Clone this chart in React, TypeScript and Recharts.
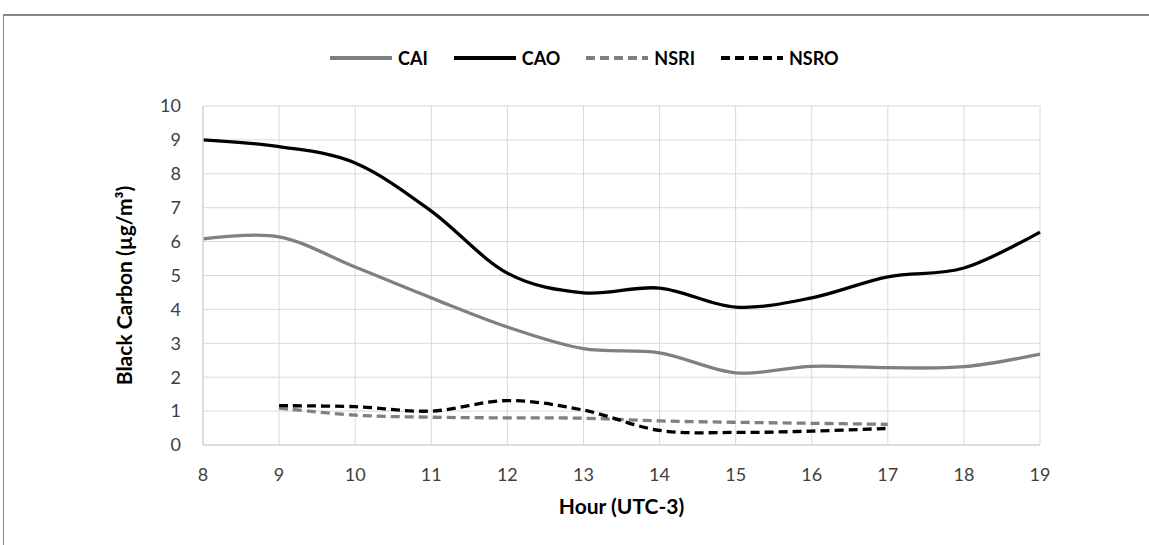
import React from "react";
import { LineChart, Line, XAxis, YAxis, CartesianGrid, Label } from "recharts";

// hours on the x axis
const hours = [8, 9, 10, 11, 12, 13, 14, 15, 16, 17, 18, 19];
const yTicks = [0, 1, 2, 3, 4, 5, 6, 7, 8, 9, 10];

// black carbon, µg/m³
const cai = [6.08, 6.14, 5.25, 4.34, 3.48, 2.84, 2.72, 2.13, 2.32, 2.28, 2.31, 2.68];
const cao = [9.0, 8.8, 8.32, 6.9, 5.07, 4.49, 4.63, 4.07, 4.34, 4.96, 5.22, 6.28];
const nsri = [null, 1.09, 0.88, 0.82, 0.8, 0.79, 0.71, 0.67, 0.64, 0.61, null, null];
const nsro = [null, 1.16, 1.13, 1.0, 1.31, 1.03, 0.43, 0.37, 0.41, 0.49, null, null];

const data = hours.map((h, i) => ({
  hour: h,
  CAI: cai[i],
  CAO: cao[i],
  NSRI: nsri[i],
  NSRO: nsro[i],
}));

const series = [
  { key: "CAI", color: "#808080", dash: undefined },
  { key: "CAO", color: "#000000", dash: undefined },
  { key: "NSRI", color: "#808080", dash: "9 5" },
  { key: "NSRO", color: "#000000", dash: "9 5" },
];

const FONT = "Lato, 'Open Sans', sans-serif";

// Excel-like smoothing (Catmull-Rom through the points)
function smoothCurve(context: any) {
  const k = 1 / 6;
  const s: any = {};
  const seg = (x: number, y: number) => {
    context.bezierCurveTo(
      s.x1 + k * (s.x2 - s.x0),
      s.y1 + k * (s.y2 - s.y0),
      s.x2 + k * (s.x1 - x),
      s.y2 + k * (s.y1 - y),
      s.x2,
      s.y2
    );
  };
  return {
    areaStart() {
      s.line = 0;
    },
    areaEnd() {
      s.line = NaN;
    },
    lineStart() {
      s.x0 = s.x1 = s.x2 = s.y0 = s.y1 = s.y2 = NaN;
      s.point = 0;
    },
    lineEnd() {
      if (s.point === 2) context.lineTo(s.x2, s.y2);
      else if (s.point === 3) seg(s.x1, s.y1);
      if (s.line || (s.line !== 0 && s.point === 1)) context.closePath();
      s.line = 1 - s.line;
    },
    point(x: number, y: number) {
      x = +x;
      y = +y;
      if (s.point === 0) {
        s.point = 1;
        s.line ? context.lineTo(x, y) : context.moveTo(x, y);
      } else if (s.point === 1) {
        s.point = 2;
        s.x1 = x;
        s.y1 = y;
      } else {
        s.point = 3;
        seg(x, y);
      }
      s.x0 = s.x1;
      s.x1 = s.x2;
      s.x2 = x;
      s.y0 = s.y1;
      s.y1 = s.y2;
      s.y2 = y;
    },
  };
}

function ChartLegend() {
  return (
    <div
      style={{
        position: "absolute",
        left: 330,
        top: 46,
        display: "flex",
        alignItems: "center",
        fontFamily: FONT,
        fontWeight: 700,
        fontSize: 18,
        color: "#000",
      }}
    >
      {series.map((s) => (
        <div key={s.key} style={{ display: "flex", alignItems: "center", marginRight: 26 }}>
          <svg width={62} height={24} style={{ marginRight: 6 }}>
            <line x1={0} y1={12} x2={62} y2={12} stroke={s.color} strokeWidth={4} strokeDasharray={s.dash} />
          </svg>
          <span>{s.key}</span>
        </div>
      ))}
    </div>
  );
}

export default function App() {
  return (
    <div style={{ position: "absolute", left: 0, top: 0, width: 1149, height: 545, overflow: "hidden", background: "#fff" }}>
      <div
        style={{
          position: "absolute",
          left: 3,
          top: 14,
          width: 1300,
          height: 700,
          borderTop: "2px solid #868686",
          borderLeft: "1px solid #868686",
        }}
      />
      <ChartLegend />
      <div style={{ position: "absolute", left: 0, top: 0 }}>
        <LineChart width={1149} height={545} data={data} margin={{ top: 106, right: 109, bottom: 0, left: 0 }}>
          <CartesianGrid stroke="#d9d9d9" strokeWidth={1} />
          <XAxis
            dataKey="hour"
            type="number"
            domain={[8, 19]}
            ticks={hours}
            height={100}
            tickLine={false}
            tickSize={0}
            tickMargin={23}
            axisLine={{ stroke: "#d9d9d9", strokeWidth: 1.5 }}
            tick={{ fontFamily: FONT, fontSize: 18, fill: "#404040" }}
          >
            <Label
              content={({ viewBox }: any) => (
                <text
                  x={viewBox.x + viewBox.width / 2}
                  y={viewBox.y + 69}
                  textAnchor="middle"
                  fontFamily={FONT}
                  fontWeight={700}
                  fontSize={21}
                  fill="#000"
                >
                  Hour (UTC-3)
                </text>
              )}
            />
          </XAxis>
          <YAxis
            type="number"
            domain={[0, 10]}
            ticks={yTicks}
            width={203}
            tickLine={false}
            tickSize={0}
            tickMargin={22}
            axisLine={{ stroke: "#d9d9d9", strokeWidth: 1.5 }}
            tick={{ fontFamily: FONT, fontSize: 18, fill: "#404040" }}
          >
            <Label
              content={({ viewBox }: any) => {
                const x = viewBox.x + 132;
                const y = viewBox.y + viewBox.height / 2 + 10;
                return (
                  <text
                    x={x}
                    y={y}
                    transform={`rotate(-90 ${x} ${y})`}
                    textAnchor="middle"
                    fontFamily={FONT}
                    fontWeight={700}
                    fontSize={21}
                    fill="#000"
                  >
                    Black Carbon (µg/m³)
                  </text>
                );
              }}
            />
          </YAxis>
          {series.map((s) => (
            <Line
              key={s.key}
              dataKey={s.key}
              type={smoothCurve as any}
              stroke={s.color}
              strokeWidth={3.3}
              strokeDasharray={s.dash}
              dot={false}
              activeDot={false}
              connectNulls={false}
              isAnimationActive={false}
            />
          ))}
        </LineChart>
      </div>
    </div>
  );
}
